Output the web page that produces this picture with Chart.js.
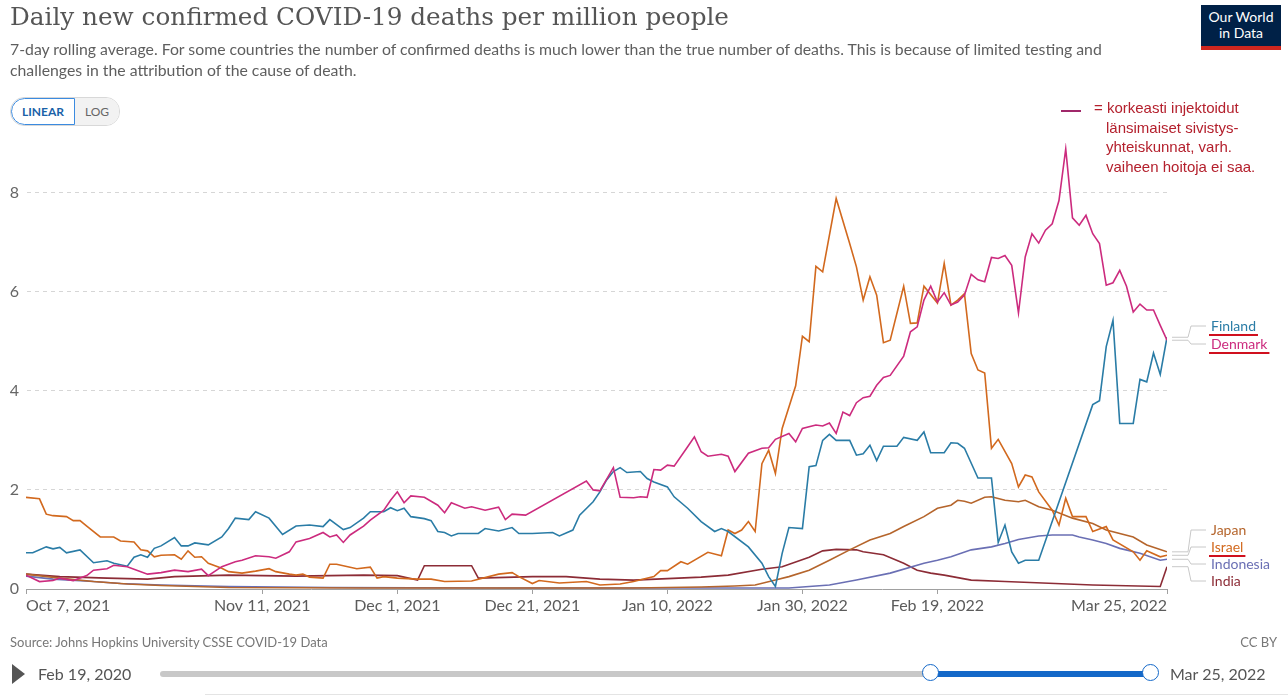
<!DOCTYPE html>
<html lang="en">
<head>
<meta charset="UTF-8">
<title>Daily new confirmed COVID-19 deaths per million people</title>
<script src="https://cdn.jsdelivr.net/npm/chart.js"></script>
<style>
    body, html {
        margin: 0;
        padding: 0;
        width: 1288px;
        height: 696px;
        overflow: hidden;
        background: #fff;
        font-family: Lato, sans-serif;
        color: #5b5b5b;
    }
    #wrap { position: absolute; left: 0; top: 0; width: 1288px; height: 696px; }
    .title {
        position: absolute; left: 10px; top: 2px;
        font-family: 'DejaVu Serif', serif; font-size: 24.7px; color: #555;
        white-space: nowrap;
    }
    .subtitle {
        position: absolute; left: 10px; top: 38px; width: 1100px;
        font-size: 15.8px; line-height: 21px; color: #5e5e5e;
    }
    .logo {
        position: absolute; left: 1201px; top: 5px; width: 80px;
        background: #002147; color: #fff; text-align: center;
        font-family: Lato, sans-serif; font-size: 14px; line-height: 16px;
        padding-top: 4px; box-sizing: border-box; border-bottom: 4px solid #ce261e;
        height: 45px;
    }
    .toggle {
        position: absolute; left: 10px; top: 97px; height: 27px; display: flex;
        font-size: 12px; font-weight: bold; border-radius: 14px; overflow: hidden;
        border: 1px solid #d8d8d8;
    }
    .toggle div { padding: 0 10px; line-height: 27px; }
    .toggle .on { color: #1a62a8; background: #fff; border: 1px solid #3b8be0; border-radius: 14px 0 0 14px; line-height: 25px; }
    .toggle .off { color: #666; background: #f2f2f2; font-weight: normal; }
    .note {
        position: absolute; left: 1094px; top: 98px; color: #b4202d;
        font-family: 'Liberation Sans', Arial, sans-serif; font-size: 15px; line-height: 19.5px;
    }
    .note .indent { padding-left: 12px; }
    .dash { position: absolute; left: 1061px; top: 110px; width: 20px; height: 2px; background: #a0286a; }
    .source { position: absolute; left: 10px; top: 634px; font-size: 13px; color: #777; }
    .cc { position: absolute; right: 11px; top: 634px; font-size: 13px; color: #777; }
    .play { position: absolute; left: 12px; top: 664px; width: 0; height: 0;
        border-top: 10px solid transparent; border-bottom: 10px solid transparent; border-left: 13px solid #555; }
    .tl-label { position: absolute; top: 664px; font-size: 16px; color: #555; }
    .track { position: absolute; left: 160px; top: 671px; width: 990px; height: 6px; background: #c8c8c8; border-radius: 3px; }
    .range { position: absolute; left: 930px; top: 671px; width: 220px; height: 6px; background: #1468c8; }
    .handle { position: absolute; top: 664px; width: 17px; height: 17px; border-radius: 50%; background: #fff;
        border: 1.5px solid #1468c8; box-sizing: border-box; }
    .baseline { position: absolute; left: 205px; top: 694px; width: 1083px; height: 1px; background: #e4e4e4; }
    canvas { position: absolute; left: 0; top: 0; }
</style>
</head>
<body>
<div id="wrap">
    <canvas id="deathsChart" width="1288" height="696"></canvas>
    <div class="title">Daily new confirmed COVID-19 deaths per million people</div>
    <div class="subtitle">7-day rolling average. For some countries the number of confirmed deaths is much lower than the true number of deaths. This is because of limited testing and<br>challenges in the attribution of the cause of death.</div>
    <div class="logo">Our World<br>in Data</div>
    <div class="toggle"><div class="on">LINEAR</div><div class="off">LOG</div></div>
    <div class="dash"></div>
    <div class="note">= korkeasti injektoidut<br><span class="indent">länsimaiset sivistys-</span><br><span class="indent">yhteiskunnat, varh.</span><br><span class="indent">vaiheen hoitoja ei saa.</span></div>
    <div class="source">Source: Johns Hopkins University CSSE COVID-19 Data</div>
    <div class="cc">CC BY</div>
    <div class="play"></div>
    <div class="tl-label" style="left:38px">Feb 19, 2020</div>
    <div class="track"></div>
    <div class="range"></div>
    <div class="handle" style="left:922px"></div>
    <div class="handle" style="left:1142px"></div>
    <div class="tl-label" style="left:1170px">Mar 25, 2022</div>
    <div class="baseline"></div>
</div>

<script>
    // day index counted from Oct 7, 2021; values are deaths per million (7-day avg)
    const tickDays = [0, 35, 55, 75, 95, 115, 135, 169];
    const tickLabels = ['Oct 7, 2021', 'Nov 11, 2021', 'Dec 1, 2021', 'Dec 21, 2021', 'Jan 10, 2022', 'Jan 30, 2022', 'Feb 19, 2022', 'Mar 25, 2022'];
    const yTicks = [0, 2, 4, 6, 8];

    const finland = [[0,0.73],[1,0.73],[3,0.85],[4,0.81],[5,0.84],[6,0.73],[8,0.79],[10,0.53],[12,0.57],[13,0.52],[15,0.46],[16,0.64],[17,0.69],[18,0.64],[19,0.82],[20,0.87],[22,1.04],[23,0.87],[24,0.87],[25,0.93],[27,0.89],[29,1.05],[30,1.22],[31,1.43],[33,1.40],[34,1.56],[36,1.43],[38,1.10],[40,1.27],[42,1.29],[44,1.26],[45,1.40],[47,1.20],[48,1.24],[50,1.43],[51,1.56],[53,1.56],[54,1.64],[55,1.58],[56,1.63],[57,1.46],[59,1.42],[60,1.38],[61,1.16],[62,1.14],[63,1.07],[64,1.12],[67,1.12],[68,1.22],[70,1.17],[72,1.24],[73,1.12],[75,1.12],[78,1.14],[79,1.07],[81,1.19],[82,1.49],[84,1.76],[85,1.96],[86,2.2],[87,2.37],[88,2.45],[89,2.35],[91,2.37],[92,2.23],[93,2.16],[95,2.06],[96,1.86],[98,1.63],[100,1.36],[102,1.16],[103,1.22],[104,1.16],[107,0.85],[109,0.52],[110,0.25],[111,0.05],[112,0.72],[113,1.24],[115,1.22],[116,2.47],[117,2.49],[118,3.0],[119,3.12],[120,3.0],[122,3.0],[123,2.7],[124,2.73],[125,2.9],[126,2.59],[127,2.88],[129,2.88],[130,3.06],[132,3.0],[133,3.17],[134,2.75],[136,2.75],[137,2.95],[138,2.94],[139,2.84],[141,2.24],[143,2.24],[144,0.94],[145,1.29],[146,0.75],[147,0.52],[148,0.58],[150,0.58],[158,3.72],[159,3.8],[160,4.89],[161,5.42],[162,3.34],[164,3.34],[165,4.23],[166,4.18],[167,4.76],[168,4.33],[169,5.08]];

    const denmark = [[0,0.28],[2,0.15],[4,0.17],[5,0.22],[7,0.17],[9,0.27],[10,0.38],[12,0.41],[13,0.48],[15,0.45],[16,0.4],[18,0.3],[20,0.33],[22,0.38],[24,0.35],[26,0.4],[27,0.27],[29,0.45],[31,0.55],[32,0.58],[34,0.67],[36,0.65],[37,0.62],[39,0.75],[40,0.95],[42,1.02],[44,1.14],[45,1.05],[46,1.09],[47,0.94],[48,1.09],[50,1.27],[51,1.39],[53,1.59],[54,1.79],[55,1.96],[56,1.74],[57,1.88],[59,1.85],[61,1.69],[62,1.54],[63,1.74],[65,1.63],[66,1.66],[68,1.59],[70,1.65],[71,1.4],[72,1.51],[74,1.49],[83,2.18],[84,2.0],[85,1.98],[87,2.45],[88,1.85],[90,1.84],[91,1.86],[92,1.85],[93,2.41],[94,2.4],[95,2.5],[96,2.48],[98,2.87],[99,3.07],[100,2.77],[101,2.68],[103,2.72],[104,2.68],[105,2.37],[107,2.74],[109,2.84],[110,2.85],[111,3.02],[113,3.14],[114,2.97],[115,3.24],[117,3.31],[118,3.29],[119,3.35],[120,3.14],[121,3.57],[122,3.5],[123,3.76],[124,3.86],[125,3.89],[126,4.11],[127,4.27],[128,4.31],[130,4.7],[131,5.19],[132,5.29],[133,5.83],[134,6.11],[135,5.79],[136,5.98],[137,5.73],[138,5.79],[139,5.93],[140,6.35],[141,6.24],[142,6.2],[143,6.69],[144,6.67],[145,6.73],[146,6.53],[147,5.57],[148,6.7],[149,7.17],[150,6.98],[151,7.24],[152,7.37],[153,7.84],[154,8.88],[155,7.49],[156,7.34],[157,7.54],[158,7.17],[159,6.97],[160,6.13],[161,6.18],[162,6.43],[163,6.11],[164,5.59],[165,5.75],[166,5.63],[167,5.63],[168,5.32],[169,5.02]];

    const israel = [[0,1.85],[2,1.82],[3,1.51],[4,1.48],[6,1.46],[7,1.38],[8,1.38],[9,1.27],[11,1.05],[13,1.05],[14,0.97],[16,0.95],[17,0.79],[18,0.77],[19,0.65],[20,0.68],[22,0.69],[23,0.6],[24,0.77],[25,0.64],[26,0.65],[27,0.52],[29,0.42],[30,0.35],[32,0.32],[34,0.36],[36,0.41],[37,0.35],[39,0.3],[40,0.28],[41,0.3],[42,0.24],[44,0.22],[45,0.5],[46,0.5],[48,0.44],[49,0.41],[51,0.44],[52,0.22],[53,0.25],[55,0.22],[58,0.2],[60,0.2],[62,0.15],[66,0.16],[70,0.3],[72,0.33],[73,0.25],[75,0.11],[76,0.17],[79,0.12],[83,0.15],[85,0.08],[88,0.1],[90,0.15],[93,0.25],[94,0.37],[95,0.37],[97,0.55],[98,0.5],[101,0.74],[103,0.67],[104,1.19],[105,1.12],[106,1.19],[107,1.36],[108,1.16],[109,2.53],[110,2.8],[111,2.33],[112,3.24],[114,4.1],[115,5.1],[116,4.99],[117,6.51],[118,6.4],[120,7.88],[122,6.97],[123,6.5],[124,5.83],[125,6.3],[126,5.93],[127,4.97],[128,5.02],[130,6.11],[131,5.36],[132,5.37],[133,6.11],[135,5.77],[136,6.57],[137,5.73],[138,5.83],[139,5.96],[140,4.75],[141,4.42],[142,4.36],[143,2.84],[144,3.02],[146,2.53],[147,2.06],[148,2.3],[149,2.26],[150,1.96],[152,1.59],[153,1.29],[154,1.83],[155,1.46],[157,1.46],[158,1.16],[160,1.26],[161,0.99],[164,0.75],[165,0.58],[166,0.77],[168,0.65],[169,0.68]];

    const japan = [[0,0.3],[5,0.22],[10,0.15],[15,0.1],[20,0.07],[30,0.03],[50,0.02],[90,0.02],[100,0.04],[105,0.06],[108,0.08],[111,0.18],[113,0.25],[116,0.38],[119,0.58],[122,0.79],[125,0.99],[128,1.12],[130,1.26],[133,1.46],[135,1.63],[137,1.69],[138,1.79],[139,1.77],[140,1.73],[142,1.85],[143,1.86],[145,1.79],[147,1.76],[148,1.79],[150,1.66],[152,1.59],[155,1.43],[158,1.32],[160,1.19],[164,1.05],[166,0.89],[169,0.75]];

    const indonesia = [[0,0.26],[4,0.2],[10,0.15],[14,0.11],[20,0.08],[30,0.05],[45,0.03],[70,0.02],[105,0.02],[113,0.02],[119,0.08],[123,0.18],[128,0.32],[133,0.52],[135,0.58],[137,0.65],[140,0.79],[143,0.85],[145,0.92],[147,1.0],[150,1.07],[152,1.09],[155,1.09],[156,1.05],[158,0.99],[160,0.92],[162,0.82],[165,0.72],[168,0.58],[169,0.6]];

    const india = [[0,0.3],[5,0.25],[12,0.22],[18,0.2],[22,0.25],[30,0.28],[40,0.26],[50,0.28],[55,0.27],[58,0.18],[59,0.47],[66,0.47],[67,0.22],[75,0.25],[80,0.25],[85,0.2],[90,0.18],[100,0.24],[104,0.28],[109,0.4],[112,0.45],[116,0.64],[118,0.77],[120,0.8],[123,0.79],[124,0.75],[127,0.69],[130,0.52],[132,0.38],[134,0.32],[136,0.28],[140,0.18],[145,0.15],[158,0.08],[168,0.05],[169,0.45]];

    const colors = {
        Finland: '#2a7ca6',
        Denmark: '#cc2b7e',
        Japan: '#b5652c',
        Israel: '#d2691e',
        Indonesia: '#6a6fb4',
        India: '#8c2c36'
    };

    // label layout on the right of the plot (pixel rows), red marks from the original
    const labelSlots = [
        { name: 'Finland', y: 326, mark: true },
        { name: 'Denmark', y: 344, mark: true },
        { name: 'Japan', y: 530, mark: false },
        { name: 'Israel', y: 547, mark: true },
        { name: 'Indonesia', y: 564, mark: false },
        { name: 'India', y: 581, mark: false }
    ];

    function toPoints(pairs) {
        return pairs.map(([d, v]) => ({ x: d, y: v }));
    }

    function makeSet(name, pairs) {
        return {
            label: name,
            data: toPoints(pairs),
            borderColor: colors[name],
            backgroundColor: colors[name],
            borderWidth: 1.6,
            pointRadius: 0,
            tension: 0,
            fill: false
        };
    }

    const endLabels = {
        id: 'endLabels',
        afterDatasetsDraw(chart) {
            const ctx = chart.ctx;
            const right = chart.chartArea.right;
            ctx.save();
            ctx.font = '14px Lato';
            ctx.textBaseline = 'middle';
            labelSlots.forEach((slot) => {
                const idx = chart.data.datasets.findIndex(d => d.label === slot.name);
                const meta = chart.getDatasetMeta(idx);
                const pt = meta.data[meta.data.length - 1];
                ctx.strokeStyle = '#c8c8c8';
                ctx.lineWidth = 1;
                ctx.beginPath();
                ctx.moveTo(right + 5, pt.y);
                ctx.lineTo(right + 21, pt.y);
                ctx.lineTo(right + 24, slot.y);
                ctx.lineTo(right + 39, slot.y);
                ctx.stroke();
                ctx.fillStyle = colors[slot.name];
                ctx.fillText(slot.name, right + 44, slot.y);
                if (slot.mark) {
                    const w = ctx.measureText(slot.name).width;
                    ctx.strokeStyle = '#d0101e';
                    ctx.lineWidth = 2;
                    ctx.beginPath();
                    ctx.moveTo(right + 42, slot.y + 9);
                    ctx.lineTo(right + 46 + w, slot.y + 9);
                    ctx.stroke();
                }
            });
            ctx.restore();
        }
    };

    const ctx = document.getElementById('deathsChart').getContext('2d');
    new Chart(ctx, {
        type: 'line',
        data: {
            datasets: [
                makeSet('Denmark', denmark),
                makeSet('Finland', finland),
                makeSet('Israel', israel),
                makeSet('Japan', japan),
                makeSet('Indonesia', indonesia),
                makeSet('India', india)
            ]
        },
        options: {
            responsive: false,
            animation: false,
            events: [],
            layout: { padding: { left: 0, top: 143, right: 121, bottom: 77 } },
            plugins: {
                legend: { display: false },
                tooltip: { enabled: false }
            },
            scales: {
                x: {
                    type: 'linear',
                    min: 0,
                    max: 169,
                    afterBuildTicks: (scale) => { scale.ticks = tickDays.map(v => ({ value: v })); },
                    afterFit: (scale) => { scale.height = 30; },
                    grid: { display: true, drawOnChartArea: false, drawTicks: true, tickLength: 5, color: '#a0a0a0' },
                    border: { display: true, color: '#a0a0a0' },
                    ticks: {
                        align: 'inner',
                        padding: 2,
                        maxRotation: 0,
                        autoSkip: false,
                        color: '#5b5b5b',
                        font: { family: 'Lato', size: 16 },
                        callback: (v) => tickLabels[tickDays.indexOf(v)]
                    }
                },
                y: {
                    min: 0,
                    max: 9,
                    afterBuildTicks: (scale) => { scale.ticks = yTicks.map(v => ({ value: v })); },
                    afterFit: (scale) => { scale.width = 26; },
                    grid: { color: '#d6d6d6', drawTicks: false },
                    border: { display: true, color: 'rgba(0,0,0,0)', dash: [4, 4] },
                    ticks: {
                        padding: 7,
                        color: '#666',
                        font: { family: 'Lato', size: 16 }
                    }
                }
            }
        },
        plugins: [endLabels]
    });
</script>
</body>
</html>
